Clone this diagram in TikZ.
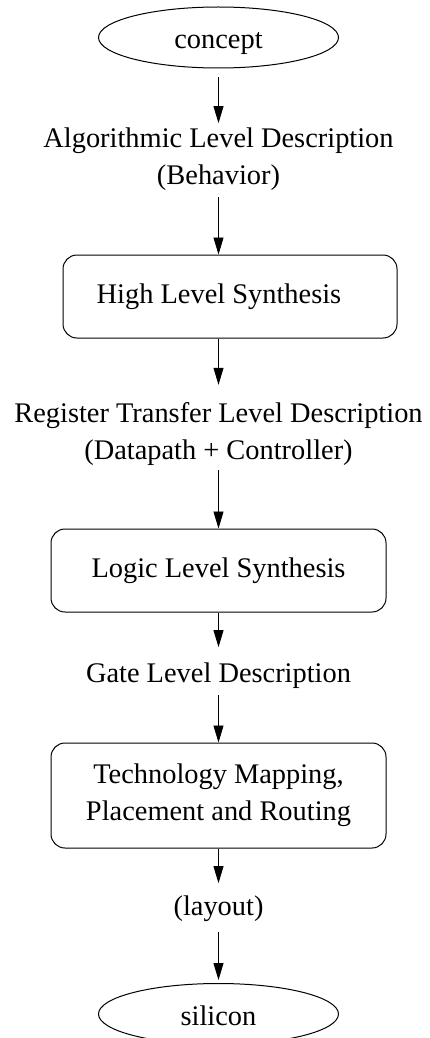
\documentclass[tikz,border=0pt]{standalone}
\usepackage{fontspec}
\setmainfont{Liberation Serif}
\usetikzlibrary{shapes.geometric,arrows.meta}
\begin{document}
\begin{tikzpicture}[x=1pt,y=-1pt,
  every node/.style={font=\fontsize{28.4}{37}\selectfont, inner sep=0pt},
  txt/.style={align=center, anchor=base},
  proc/.style={draw, line width=1pt, rounded corners=14pt, minimum width=335pt, align=center},
  term/.style={draw, ellipse, line width=1pt, minimum width=240pt, minimum height=61pt, text height=22pt, text depth=0pt},
  flow/.style={-{Triangle[length=17pt,width=10pt]}, line width=0.8pt}]
\fill[white] (0,0) rectangle (429,1038);
\useasboundingbox (0,0) rectangle (429,1038);
\clip (0,0) rectangle (429,1038);
\node[term] (concept) at (218.5,37.5) {concept};
\node[txt] (alg) at (218.5,184) {Algorithmic Level Description\\(Behavior)};
\node[proc, minimum width=334pt, minimum height=83pt] (hls) at (230,296.5) {\kern-22pt High Level Synthesis};
\node[txt] (rtl) at (218.5,459) {Register Transfer Level Description\\(Datapath + Controller)};
\node[proc, minimum height=83pt] (lls) at (218.5,570.5) {Logic Level Synthesis};
\node[txt] (gate) at (218.5,682) {Gate Level Description};
\node[proc, minimum height=105pt] (tmpr) at (218.5,795.5) {Technology Mapping,\\Placement and Routing};
\node[txt] (layout) at (218.5,915) {(layout)};
\node[term] (silicon) at (218.5,1014) {silicon};
\draw[flow, shorten <=9pt, shorten >=4pt] (concept) -- (alg);
\draw[flow, shorten <=7pt] (alg.south) -- (alg.south |- hls.north);
\draw[flow, shorten >=17pt] (rtl.north |- hls.south) -- (rtl.north);
\draw[flow, shorten <=5pt] (rtl.south) -- (lls.north);
\draw[flow, shorten >=15pt] (lls) -- (gate);
\draw[flow, shorten <=7pt] (gate) -- (tmpr);
\draw[flow, shorten >=12pt] (tmpr) -- (layout);
\draw[flow, shorten <=11pt, shorten >=3pt] (layout) -- (silicon);
\end{tikzpicture}
\end{document}
